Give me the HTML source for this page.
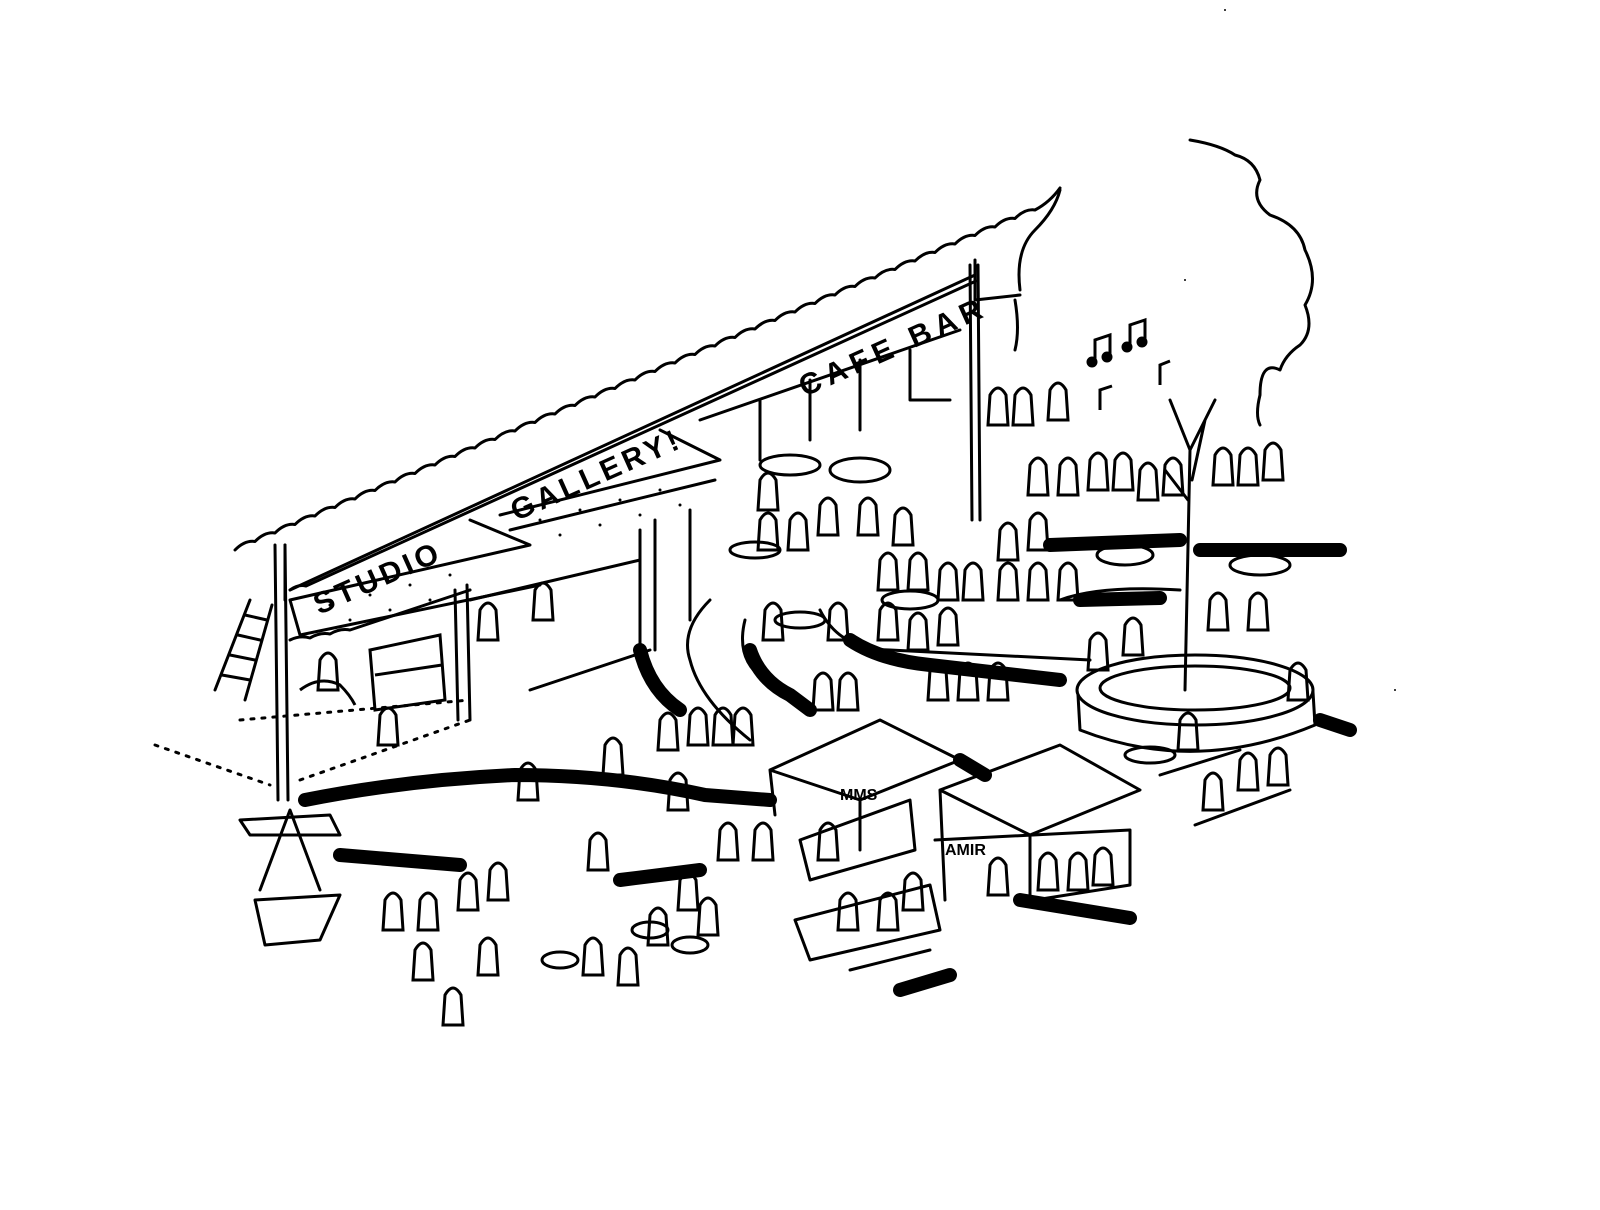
<!DOCTYPE html>
<html><head><meta charset="utf-8"><style>
html,body{margin:0;padding:0;background:#fff;}
svg{display:block;}
text{font-family:"Liberation Sans",sans-serif;font-weight:bold;fill:#000;}
</style></head><body>
<svg width="1600" height="1210" viewBox="0 0 1600 1210" xmlns="http://www.w3.org/2000/svg">
<defs>
<path id="p" d="M0,0 q8,-14 16,0 l2,30 l-20,0 z"/>
</defs>
<g fill="none" stroke="#000" stroke-width="3" stroke-linecap="round" stroke-linejoin="round">
<!-- roof wavy -->
<path d="M235,550 q10,-10 20,-8.5 q10,-10 20,-8.5 q10,-10 20,-8.5 q10,-10 20,-8.5 q10,-10 20,-8.5 q10,-10 20,-8.5 q10,-10 20,-8.5 q10,-10 20,-8.5 q10,-10 20,-8.5 q10,-10 20,-8.5 q10,-10 20,-8.5 q10,-10 20,-8.5 q10,-10 20,-8.5 q10,-10 20,-8.5 q10,-10 20,-8.5 q10,-10 20,-8.5 q10,-10 20,-8.5 q10,-10 20,-8.5 q10,-10 20,-8.5 q10,-10 20,-8.5 q10,-10 20,-8.5 q10,-10 20,-8.5 q10,-10 20,-8.5 q10,-10 20,-8.5 q10,-10 20,-8.5 q10,-10 20,-8.5 q10,-10 20,-8.5 q10,-10 20,-8.5 q10,-10 20,-8.5 q10,-10 20,-8.5 q10,-10 20,-8.5 q10,-10 20,-8.5 q10,-10 20,-8.5 q10,-10 20,-8.5 q10,-10 20,-8.5 q10,-10 20,-8.5 q10,-10 20,-8.5 q10,-10 20,-8.5 q10,-10 20,-8.5 q10,-10 20,-8.5 q15,-8 25,-22"/>
<!-- sign band lower -->
<path d="M290,590 L975,275 M290,590 q8,-6 16,-4 l670,-305"/>
<path d="M285,545 L285,600 M975,260 L975,300 L1020,295"/>
<!-- awning lines -->
<path d="M290,600 L530,545 L470,520 M290,600 L300,635 L540,585 M500,515 L720,460 L660,430 M510,530 L715,480"/>
<path d="M290,640 q10,-5 20,-2 q10,-6 20,-4 q10,-6 20,-4 l120,-40"/>
<!-- posts -->
<path d="M275,545 L278,800 M285,545 L288,800 M455,590 L458,720 M467,585 L470,720 M640,530 L640,650 M655,520 L655,650 M690,510 L690,620 M970,265 L972,520 M978,265 L980,520"/>
<!-- building back wall -->
<path d="M470,600 L640,560 M530,690 L650,650 M700,420 L960,330 M860,360 L860,430 M810,380 L810,440 M760,400 L760,460 M910,350 L910,400 L950,400"/>
<path d="M240,720 L470,700 M300,780 L470,720 M155,745 L270,785" stroke-dasharray="3,8"/>
<!-- ladder -->
<path d="M215,690 L250,600 M245,700 L272,605 M222,675 L250,680 M230,655 L255,660 M238,635 L260,640 M245,615 L267,620"/>
<!-- tree cloud -->
<path d="M1020,290 q-5,-40 15,-60 q20,-20 25,-40 M1015,300 q5,30 0,50 M1190,140 q30,5 45,15 q20,5 25,25 q-10,20 10,35 q30,10 35,35 q15,30 0,55 q10,25 -5,40 q-15,10 -20,25 q-20,-10 -20,25 q-5,20 0,30"/>
<!-- tree trunk -->
<path d="M1185,690 L1190,450 L1170,400 M1190,450 L1215,400 M1188,500 L1165,470 M1192,480 L1205,420"/>
<!-- planter -->
<ellipse cx="1195" cy="690" rx="118" ry="35"/>
<ellipse cx="1195" cy="688" rx="95" ry="22"/>
<path d="M1078,695 L1080,730 q115,45 235,-5 L1313,692"/>
<!-- stalls -->
<path d="M770,770 L880,720 L960,760 L860,800 Z M770,770 L775,815 M860,800 L860,850 M800,840 L910,800 L915,850 L810,880 Z"/>
<path d="M940,790 L1060,745 L1140,790 L1030,835 Z M940,790 L945,900 M1030,835 L1030,900 M935,840 L1130,830 L1130,885 L1035,900"/>
<path d="M795,920 L930,885 L940,930 L810,960 Z M850,970 L930,950"/>
<!-- left stand -->
<path d="M260,890 L290,810 L320,890 M255,900 L340,895 L320,940 L265,945 Z M240,820 L330,815 L340,835 L250,835 Z"/>
<!-- tables -->
<ellipse cx="790" cy="465" rx="30" ry="10"/><ellipse cx="860" cy="470" rx="30" ry="12"/>
<ellipse cx="755" cy="550" rx="25" ry="8"/><ellipse cx="800" cy="620" rx="25" ry="8"/>
<ellipse cx="1125" cy="555" rx="28" ry="10"/><ellipse cx="1260" cy="565" rx="30" ry="10"/>
<ellipse cx="910" cy="600" rx="28" ry="9"/><ellipse cx="1150" cy="755" rx="25" ry="8"/>
<path d="M1195,825 L1290,790 M1160,775 L1240,750"/>
<!-- path curves -->
<path d="M710,600 q-30,30 -20,60 q10,40 60,80 M745,620 q-10,40 20,60 q30,20 50,30 M820,610 q20,40 70,40 L1090,660 M1060,600 q40,-15 120,-10"/>
</g>
<!-- thick black bands -->
<g fill="none" stroke="#000" stroke-linecap="round" stroke-width="14">
<path d="M305,800 q100,-20 210,-25 q100,0 190,20 L770,800"/>
<path d="M340,855 L460,865"/>
<path d="M640,650 q10,40 40,60"/>
<path d="M750,650 q10,30 40,45 L810,710"/>
<path d="M850,640 q30,20 80,25 L1060,680"/>
<path d="M1050,545 L1180,540 M1200,550 L1340,550"/>
<path d="M1080,600 L1160,598"/>
<path d="M960,760 L985,775 M1020,900 L1130,918 M1320,720 L1350,730"/>
<path d="M620,880 L700,870 M900,990 L950,975"/>
</g>
<g fill="none" stroke="#000" stroke-width="3">
<use href="#p" x="380" y="715"/><use href="#p" x="520" y="770"/><use href="#p" x="605" y="745"/><use href="#p" x="660" y="720"/>
<use href="#p" x="690" y="715"/><use href="#p" x="715" y="715"/><use href="#p" x="735" y="715"/><use href="#p" x="670" y="780"/>
<use href="#p" x="720" y="830"/><use href="#p" x="755" y="830"/><use href="#p" x="820" y="830"/><use href="#p" x="815" y="680"/>
<use href="#p" x="840" y="680"/><use href="#p" x="930" y="670"/><use href="#p" x="960" y="670"/><use href="#p" x="990" y="670"/>
<use href="#p" x="990" y="865"/><use href="#p" x="1040" y="860"/><use href="#p" x="1070" y="860"/><use href="#p" x="1095" y="855"/>
<use href="#p" x="1205" y="780"/><use href="#p" x="1240" y="760"/><use href="#p" x="1270" y="755"/><use href="#p" x="1210" y="600"/>
<use href="#p" x="1250" y="600"/><use href="#p" x="1125" y="625"/><use href="#p" x="1090" y="640"/><use href="#p" x="1290" y="670"/>
<use href="#p" x="1030" y="465"/><use href="#p" x="1060" y="465"/><use href="#p" x="1090" y="460"/><use href="#p" x="1115" y="460"/>
<use href="#p" x="1140" y="470"/><use href="#p" x="1165" y="465"/><use href="#p" x="1215" y="455"/><use href="#p" x="1240" y="455"/>
<use href="#p" x="1265" y="450"/><use href="#p" x="990" y="395"/><use href="#p" x="1015" y="395"/><use href="#p" x="1050" y="390"/>
<use href="#p" x="880" y="560"/><use href="#p" x="910" y="560"/><use href="#p" x="940" y="570"/><use href="#p" x="965" y="570"/>
<use href="#p" x="1000" y="570"/><use href="#p" x="1030" y="570"/><use href="#p" x="1060" y="570"/><use href="#p" x="880" y="610"/>
<use href="#p" x="910" y="620"/><use href="#p" x="940" y="615"/><use href="#p" x="1000" y="530"/><use href="#p" x="1030" y="520"/>
<use href="#p" x="760" y="520"/><use href="#p" x="790" y="520"/><use href="#p" x="820" y="505"/><use href="#p" x="860" y="505"/>
<use href="#p" x="895" y="515"/><use href="#p" x="765" y="610"/><use href="#p" x="830" y="610"/><use href="#p" x="760" y="480"/>
<use href="#p" x="385" y="900"/><use href="#p" x="420" y="900"/><use href="#p" x="415" y="950"/><use href="#p" x="445" y="995"/>
<use href="#p" x="480" y="945"/><use href="#p" x="585" y="945"/><use href="#p" x="620" y="955"/><use href="#p" x="650" y="915"/>
<use href="#p" x="700" y="905"/><use href="#p" x="680" y="880"/><use href="#p" x="460" y="880"/><use href="#p" x="490" y="870"/>
<use href="#p" x="590" y="840"/><use href="#p" x="840" y="900"/><use href="#p" x="880" y="900"/><use href="#p" x="905" y="880"/>
<use href="#p" x="480" y="610"/><use href="#p" x="535" y="590"/><use href="#p" x="320" y="660"/><use href="#p" x="1180" y="720"/>
</g>
<g fill="none" stroke="#000" stroke-width="3">
<path d="M370,650 L440,635 L445,700 L375,710 Z M375,675 L442,665 M300,690 q20,-15 40,-5 q10,10 15,20"/>
<ellipse cx="560" cy="960" rx="18" ry="8"/><ellipse cx="690" cy="945" rx="18" ry="8"/><ellipse cx="650" cy="930" rx="18" ry="8"/>
</g>
<g fill="#000" stroke="#000" stroke-width="3">
<path d="M1095,360 l0,-20 l15,-5 l0,20 M1130,345 l0,-20 l15,-5 l0,20 M1100,410 l0,-20 l12,-4 M1160,385 l0,-20 l10,-4" fill="none"/>
<circle cx="1092" cy="362" r="4"/><circle cx="1107" cy="357" r="4"/><circle cx="1127" cy="347" r="4"/><circle cx="1142" cy="342" r="4"/>
</g>
<g fill="#000">
<circle cx="330" cy="605" r="1.5"/><circle cx="370" cy="595" r="1.5"/><circle cx="410" cy="585" r="1.5"/><circle cx="450" cy="575" r="1.5"/>
<circle cx="350" cy="620" r="1.5"/><circle cx="390" cy="610" r="1.5"/><circle cx="430" cy="600" r="1.5"/><circle cx="470" cy="590" r="1.5"/>
<circle cx="540" cy="520" r="1.5"/><circle cx="580" cy="510" r="1.5"/><circle cx="620" cy="500" r="1.5"/><circle cx="660" cy="490" r="1.5"/>
<circle cx="560" cy="535" r="1.5"/><circle cx="600" cy="525" r="1.5"/><circle cx="640" cy="515" r="1.5"/><circle cx="680" cy="505" r="1.5"/>
<circle cx="1225" cy="10" r="1"/><circle cx="1185" cy="280" r="1"/><circle cx="1395" cy="690" r="1"/>
</g>
<text x="300" y="585" font-size="30" transform="rotate(-24 380 555)" letter-spacing="4">STUDIO</text>
<text x="500" y="495" font-size="30" transform="rotate(-24 570 470)" letter-spacing="4">GALLERY!</text>
<text x="785" y="365" font-size="30" transform="rotate(-24 870 335)" letter-spacing="6">CAFE BAR</text>
<text x="840" y="800" font-size="16" font-weight="normal">MMS</text>
<text x="945" y="855" font-size="16" font-weight="normal">AMIR</text>
</svg>
</body></html>
